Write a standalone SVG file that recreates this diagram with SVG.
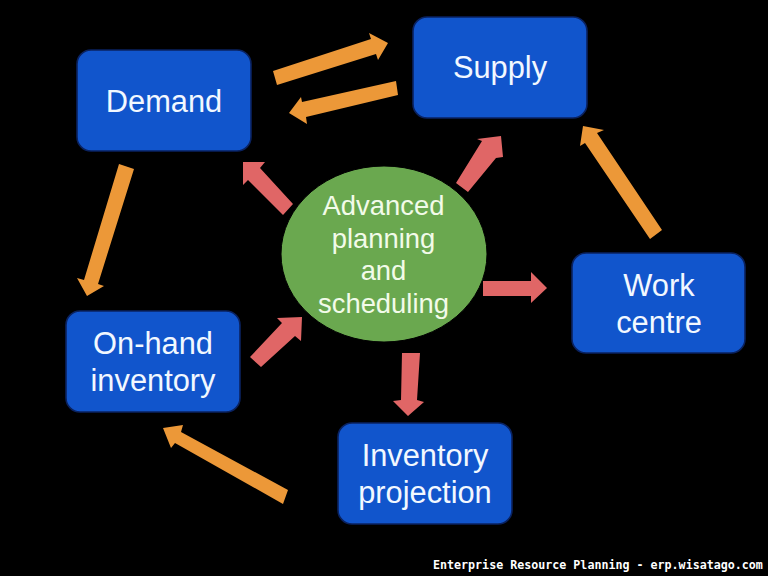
<svg xmlns="http://www.w3.org/2000/svg" width="768" height="576" viewBox="0 0 768 576">
<style>
.box{fill:#1155cc;stroke:#0a2260;stroke-width:1.6}
.lbl{font-family:"Liberation Sans",Arial,sans-serif;font-size:30.8px;fill:#f2f8ff;text-anchor:middle}
.hub{font-size:27.4px;fill:#f2fbe9}
.o{fill:#ec9838}
.r{fill:#e06666}
.foot{font-family:"DejaVu Sans Mono",monospace;font-weight:bold;font-size:11.66px;fill:#fff}
</style>
<rect width="768" height="576" fill="#000"/>
<g id="connectors">
<polygon class="o" points="273,71 371,39 369,33 388,43 378,60 376,54 277,85"/>
<polygon class="o" points="396,81 302,102 301,97 289,113 307,124 306,117 398,95"/>
<polygon class="o" points="119,164 134,169 98,284 104,286 87,296 77,278 84,280"/>
<polygon class="o" points="288,490 283,504 175,443 171,448 163,428 183,425 181,432"/>
<polygon class="o" points="662,230 650,239 585,143 580,146 583,126 604,130 597,133"/>
<polygon class="r" points="293,204 283,215 248,180 243,185 243,162 265,162 260,168"/>
<polygon class="r" points="456,183 468,192 496,158 503,157 501,136 477,139 482,141"/>
<polygon class="r" points="483,281 531,281 531,272 547,288 531,303 531,296 483,296"/>
<polygon class="r" points="402,353 420,353 417,400 424,402 408,416 393,401 401,400"/>
<polygon class="r" points="250,357 261,367 295,336 301,341 302,317 277,318 282,323"/>
</g>
<g id="demand"><rect class="box" x="77" y="50" width="174" height="101" rx="14"/><text class="lbl" x="164" y="112">Demand</text></g>
<g id="supply"><rect class="box" x="413" y="17" width="174" height="101" rx="14"/><text class="lbl" x="500" y="78">Supply</text></g>
<g id="work-centre"><rect class="box" x="572" y="253" width="173" height="100" rx="14"/><text class="lbl" x="659" y="296">Work</text><text class="lbl" x="659" y="333">centre</text></g>
<g id="on-hand-inventory"><rect class="box" x="66" y="311" width="174" height="101" rx="14"/><text class="lbl" x="153" y="354">On-hand</text><text class="lbl" x="153" y="391">inventory</text></g>
<g id="inventory-projection"><rect class="box" x="338" y="423" width="174" height="101" rx="14"/><text class="lbl" x="425" y="466">Inventory</text><text class="lbl" x="425" y="503">projection</text></g>
<g id="advanced-planning"><ellipse cx="384" cy="254" rx="103" ry="88" fill="#6aa84f" stroke="#000"/><text class="lbl hub" x="383.500" y="215">Advanced</text><text class="lbl hub" x="383.500" y="248">planning</text><text class="lbl hub" x="383.500" y="280">and</text><text class="lbl hub" x="383.500" y="313">scheduling</text></g>
<text class="foot" x="433" y="569">Enterprise Resource Planning - erp.wisatago.com</text>
</svg>
